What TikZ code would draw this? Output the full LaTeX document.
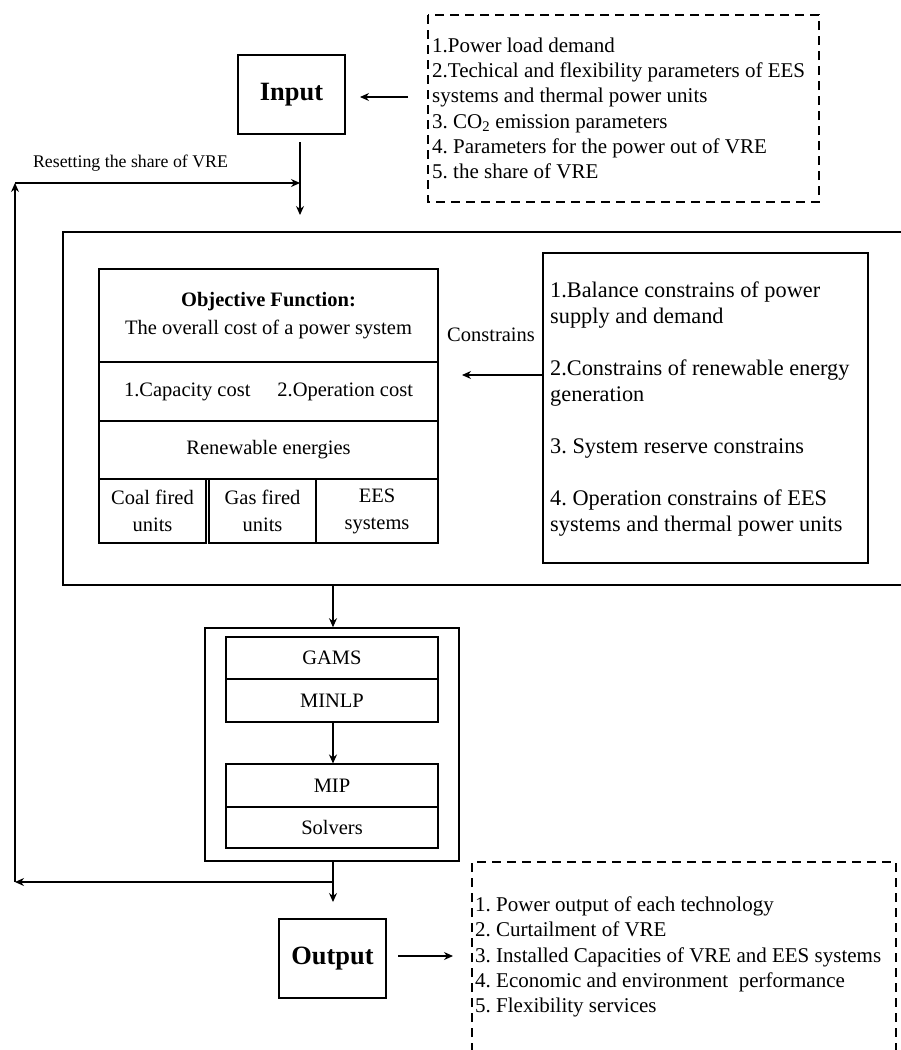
\documentclass[tikz,border=0pt]{standalone}
\usepackage{fontspec}
\setmainfont{Liberation Serif}
\usetikzlibrary{arrows.meta}
\frenchspacing
\begin{document}
\begin{tikzpicture}[x=1pt,y=-1pt,
  cell/.style={draw, line width=1.1pt, inner sep=0pt, align=center, font=\fontsize{20.5}{28}\selectfont},
  cell2/.style={cell, font=\fontsize{20.5}{27}\selectfont},
  bigbox/.style={line width=1.8pt},
  headbox/.style={draw, line width=1.3pt, inner sep=0pt, minimum width=107pt, minimum height=79pt, font=\bfseries\fontsize{26.4}{30}\selectfont},
  arr/.style={line width=1.2pt, -{Stealth[length=9pt,width=8pt]}},
  dashbox/.style={line width=1.2pt, dash pattern=on 9pt off 6pt},
  listtext/.style={inner sep=0pt, align=left, anchor=west, font=\frenchspacing\fontsize{21}{25.3}\selectfont},
  plain/.style={inner sep=0pt, font=\fontsize{20.5}{25}\selectfont}
]
\useasboundingbox (0,0) rectangle (900,1050);

% ---------- Input ----------
\node[headbox] (input) at (291.5,94.5) {Input};
\draw[dashbox] (428,15) rectangle (819,202);
\node[listtext] (inlist) at (432,108.5) {1.Power load demand\\2.Techical and flexibility parameters of EES\\systems and thermal power units\\3. CO\textsubscript{2} emission parameters\\4. Parameters for the power out of VRE\\5. the share of VRE};
\coordinate (inA) at (408,97);
\coordinate (inB) at (360,97);
\draw[arr] (inA) -- (inB);

\coordinate (downA) at (300,142);
\coordinate (downB) at (300,215);
\draw[arr] (downA) -- (downB);

% ---------- Feedback loop ----------
\coordinate (junc) at (333,882);
\coordinate (leftBot) at (15,882);
\coordinate (leftTop) at (15,183);
\coordinate (resetEnd) at (300,183);
\draw[arr] (junc) -- (leftBot);
\draw[arr] (leftBot) -- (leftTop);
\draw[arr] (leftTop) -- (resetEnd);
\node[inner sep=0pt, font=\fontsize{17.8}{20}\selectfont] (reset) at (130.5,163) {Resetting the share of VRE};

% ---------- Big model box ----------
\draw[bigbox] (902,232) -- (63,232) -- (63,585) -- (902,585);

\node[cell, minimum width=339pt, minimum height=93pt] (obj) at (268.5,315.5) {\textbf{Objective Function:}\\The overall cost of a power system};
\node[cell, minimum width=339pt, minimum height=59pt] (cost) at (268.5,391.5) {1.Capacity cost\hspace{27pt}2.Operation cost};
\node[cell, minimum width=339pt, minimum height=58pt] (ren) at (268.5,450) {Renewable energies};
\node[cell2, minimum width=107pt, minimum height=64pt] (coal) at (152.5,511) {Coal fired\\units};
\node[cell2, minimum width=107pt, minimum height=64pt] (gas) at (262.5,511) {Gas fired\\units};
\node[cell2, minimum width=122pt, minimum height=64pt] (ees) at (377,511) {EES\\systems};

\node[draw, line width=1.2pt, minimum width=325pt, minimum height=310pt, inner sep=0pt] (cons) at (705.5,408) {};
\node[inner sep=0pt, align=left, anchor=west, font=\frenchspacing\fontsize{22.3}{25.9}\selectfont] (constext) at (550,409) {1.Balance constrains of power\\supply and demand\\[25.9pt]2.Constrains of renewable energy\\generation\\[25.9pt]3. System reserve constrains\\[25.9pt]4. Operation constrains of EES\\systems and thermal power units};
\node[plain] (conslabel) at (491,335) {Constrains};
\coordinate (cArr) at (462,375);
\draw[arr] (cons.west |- cArr) -- (cArr);

% ---------- Solver box ----------
\coordinate (bigBot) at (333,585);
\node[draw, line width=1.6pt, minimum width=254pt, minimum height=233pt, inner sep=0pt] (solver) at (332,744.5) {};
\draw[arr] (bigBot) -- (solver.north -| bigBot);
\node[cell, minimum width=212pt, minimum height=42pt] (gams) at (332,658) {GAMS};
\node[cell, minimum width=212pt, minimum height=43pt] (minlp) at (332,700.5) {MINLP};
\node[cell, minimum width=212pt, minimum height=43pt] (mip) at (332,785.5) {MIP};
\node[cell, minimum width=212pt, minimum height=41pt] (solvers) at (332,827.5) {Solvers};
\draw[arr] (minlp.south -| bigBot) -- (mip.north -| bigBot);

% ---------- Output ----------
\node[headbox] (output) at (332.5,958.5) {Output};
\coordinate (solBot) at (333,861);
\coordinate (outTop) at (333,902);
\draw[line width=1.2pt] (solBot) -- (junc);
\draw[arr] (junc) -- (outTop);
\coordinate (oA) at (398,956);
\coordinate (oB) at (453,956);
\draw[arr] (oA) -- (oB);
\draw[dashbox] (472,1052) -- (472,862) -- (896,862) -- (896,1052);
\node[listtext] (outlist) at (475,957) {1. Power output of each technology\\2. Curtailment of VRE\\3. Installed Capacities of VRE and EES systems\\4. Economic and environment\ \ performance\\5. Flexibility services};
\end{tikzpicture}
\end{document}
